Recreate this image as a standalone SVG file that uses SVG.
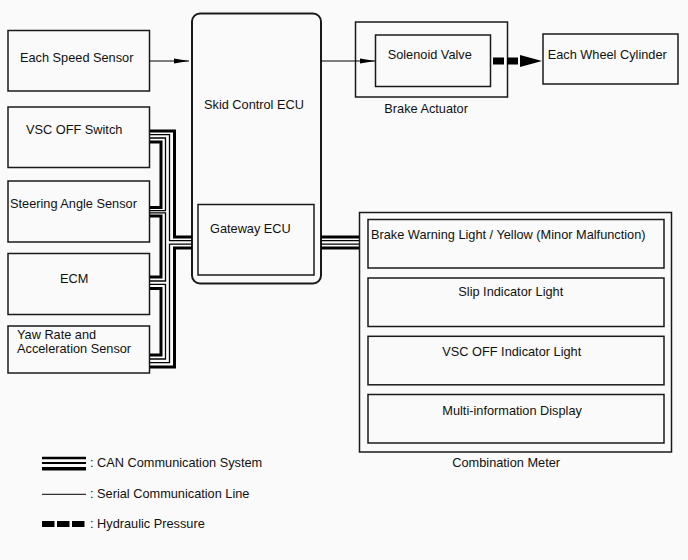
<svg xmlns="http://www.w3.org/2000/svg" width="688" height="560" viewBox="0 0 688 560">
<defs>
<style>
.box{fill:none;stroke:#1a1a1a;stroke-width:1.5}
.t{font-family:"Liberation Sans",Arial,sans-serif;font-size:12.75px;fill:#111}
.tk{fill:none;stroke:#000;stroke-width:3}
.tn{fill:none;stroke:#000;stroke-width:1.3}
.ln{fill:none;stroke:#000;stroke-width:1}
</style>
<marker id="ah" markerWidth="15" markerHeight="6" refX="15" refY="3" orient="auto" markerUnits="userSpaceOnUse">
<path d="M0,0.5 L15,3 L0,5.5 Z" fill="#000"/>
</marker>
</defs>
<rect width="688" height="560" fill="#fafafa"/>

<g id="speed-sensor"><rect class="box" x="8" y="30.5" width="141.5" height="60.5"/><text class="t" x="20" y="62">Each Speed Sensor</text></g>
<g id="vsc-off-switch"><rect class="box" x="8" y="107" width="141.5" height="60.5"/><text class="t" x="26" y="134">VSC OFF Switch</text></g>
<g id="steering-angle-sensor"><rect class="box" x="8" y="181" width="141.5" height="61"/><text class="t" x="10" y="207.5">Steering Angle Sensor</text></g>
<g id="ecm"><rect class="box" x="8" y="253.5" width="141.5" height="61"/><text class="t" x="60" y="283">ECM</text></g>
<g id="yaw-rate-sensor"><rect class="box" x="8" y="326" width="141.5" height="47"/><text class="t" x="17" y="339">Yaw Rate and</text><text class="t" x="17" y="352.5">Acceleration Sensor</text></g>

<g id="skid-control-ecu"><rect x="192" y="13.5" width="129" height="270" rx="8" fill="none" stroke="#1a1a1a" stroke-width="2"/><text class="t" x="204" y="109">Skid Control ECU</text></g>
<g id="gateway-ecu"><rect class="box" x="198" y="204.5" width="116" height="70.5"/><text class="t" x="210" y="233">Gateway ECU</text></g>

<g id="brake-actuator"><rect class="box" x="355.5" y="22" width="152" height="75"/><text class="t" x="384.3" y="112.5">Brake Actuator</text></g>
<g id="solenoid-valve"><rect class="box" x="375.5" y="35" width="115" height="51.5"/><text class="t" x="387.7" y="59">Solenoid Valve</text></g>
<g id="wheel-cylinder"><rect class="box" x="543" y="34" width="135" height="50"/><text class="t" x="547.7" y="59">Each Wheel Cylinder</text></g>

<g id="combination-meter"><rect class="box" x="359.5" y="212.5" width="312" height="239.5"/><text class="t" x="452.3" y="467">Combination Meter</text></g>
<g id="brake-warning-light"><rect class="box" x="368" y="219.5" width="296" height="48.5"/><text class="t" x="371" y="238.5">Brake Warning Light / Yellow (Minor Malfunction)</text></g>
<g id="slip-indicator-light"><rect class="box" x="368" y="278" width="296" height="48.5"/><text class="t" x="458.3" y="296">Slip Indicator Light</text></g>
<g id="vsc-off-indicator-light"><rect class="box" x="368" y="336.3" width="296" height="48.5"/><text class="t" x="442.3" y="356">VSC OFF Indicator Light</text></g>
<g id="multi-information-display"><rect class="box" x="368" y="394.5" width="296" height="48.5"/><text class="t" x="442.3" y="415">Multi-information Display</text></g>

<g id="connectors">
<line class="ln" x1="150" y1="61" x2="189" y2="61" marker-end="url(#ah)"/>
<line class="ln" x1="321" y1="61" x2="375" y2="61" marker-end="url(#ah)"/>
<line x1="493" y1="61" x2="521" y2="61" stroke="#000" stroke-width="7" stroke-dasharray="11,3"/>
<polygon points="520,55 542,61 520,67" fill="#000"/>

<path class="tk" d="M150,131 H174.5 V237 H192"/>
<path class="tn" d="M150,134.7 H169.5 V240.7 H192"/>
<path class="tn" d="M150,362.7 H169.5 V244.2 H192"/>
<path class="tk" d="M150,367 H174.5 V248 H192"/>

<path class="tn" d="M150,138 H165.5 V210.7 H150"/>
<path class="tk" d="M150,142 H161 V207.5 H150"/>
<path class="tn" d="M150,212.8 H165.5 V281 H150"/>
<path class="tk" d="M150,216 H161 V277 H150"/>
<path class="tn" d="M150,284.3 H165.5 V359 H150"/>
<path class="tk" d="M150,288.5 H161 V355 H150"/>

<line class="tk" x1="321" y1="237" x2="359" y2="237"/>
<line class="tn" x1="321" y1="240.7" x2="359" y2="240.7"/>
<line class="tn" x1="321" y1="244.2" x2="359" y2="244.2"/>
<line class="tk" x1="321" y1="248" x2="359" y2="248"/>
</g>

<g id="legend">
<line x1="42" y1="458" x2="86" y2="458" stroke="#000" stroke-width="2.7"/>
<line x1="42" y1="463" x2="86" y2="463" stroke="#000" stroke-width="2"/>
<line x1="42" y1="468.8" x2="86" y2="468.8" stroke="#000" stroke-width="3.6"/>
<text class="t" x="90" y="466.7">: CAN Communication System</text>
<line class="ln" x1="42" y1="494.3" x2="86" y2="494.3"/>
<text class="t" x="90" y="498">: Serial Communication Line</text>
<line x1="42" y1="524" x2="85" y2="524" stroke="#000" stroke-width="6" stroke-dasharray="12.5,2.5"/>
<text class="t" x="90" y="528.3">: Hydraulic Pressure</text>
</g>
</svg>
